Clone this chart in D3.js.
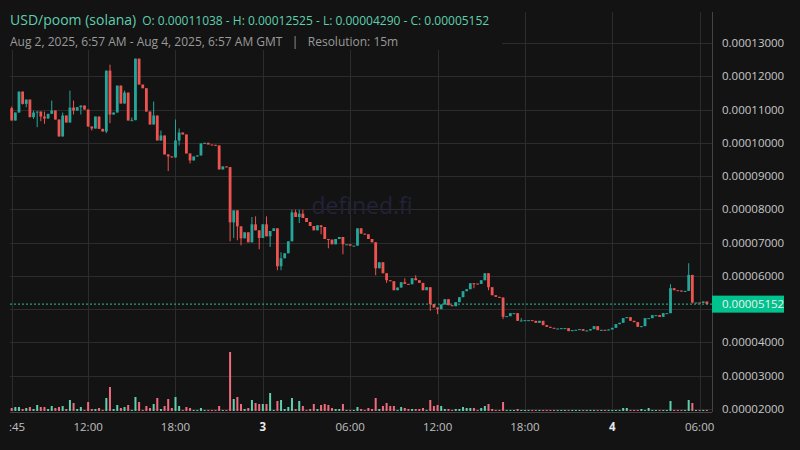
<!DOCTYPE html>
<html>
<head>
<meta charset="utf-8">
<script src="https://cdn.jsdelivr.net/npm/d3@7"></script>
<style>
  body { margin: 0; background: #131313; }
  svg { display: block; font-family: "Open Sans", "Noto Sans", sans-serif; }
</style>
</head>
<body>
<div id="chart"></div>
<script>
// prices in units of 1e-7 USD, one candle per 15m from Aug 2 06:45 GMT
const firstOpen = 1104;
const closes = [
  1067,1091,1154,1117,1130,1077,1091,1094,1079,1073,
  1087,1097,1070,1019,1082,1061,1106,1097,1107,1112,
  1100,1049,1043,1079,1042,1034,1217,1085,1091,1172,
  1118,1151,1067,1068,1253,1175,1164,1094,1055,1082,
  1007,1022,965,959,956,1007,1031,1025,968,947,
  959,962,998,1000,995,994,992,920,929,927,
  761,797,749,713,731,701,755,737,714,755,
  719,735,743,629,653,668,704,791,777,787,
  774,762,750,737,752,747,711,709,695,711,
  717,695,695,691,691,743,727,725,711,701,
  623,641,608,587,584,557,565,581,576,575,
  593,587,579,557,566,515,505,500,514,530,
  512,509,521,536,554,560,578,577,576,587,
  608,566,542,537,535,477,479,488,488,465,
  466,467,467,465,459,465,452,447,444,442,
  442,443,443,434,437,438,440,435,436,440,
  449,437,438,437,439,444,455,459,473,476,
  465,461,447,449,473,473,482,482,477,488,
  488,563,557,556,553,555,603,520,520,519,
  523,515.2
];
// [candle index, high, low] where the wicks stick out of the body
const wicks = [
  [0,1109,null],[3,null,1115],[4,null,1107],[6,1097,1072],[7,null,1047],[8,null,1065],
  [9,1094,1057],[11,1127,null],[14,1091,null],[16,1157,null],[17,1127,1085],[19,null,1085],
  [22,null,1037],[26,null,1029],[27,1235,1059],[31,1157,null],[33,1076,null],[39,1124,null],
  [41,1037,null],[43,null,915],[45,1070,null],[46,1043,992],[49,null,938],[60,null,704],
  [61,null,714],[62,null,707],[63,null,692],[66,777,null],[67,779,null],[68,null,680],
  [70,779,null],[71,null,687],[73,null,617],[74,671,617],[77,799,null],[78,799,null],
  [79,799,759],[80,799,null],[85,null,725],[87,null,683],[91,null,665],[100,null,602],
  [103,null,579],[108,593,null],[111,602,null],[115,null,495],[117,null,485],[127,null,563],
  [131,null,557],[135,null,470],[140,473,null],[181,575,null],[186,638,null],[187,null,517]
];
const volumes = [
  3,4,4,2,3,4,2,6,4,4, 2,5,3,4,5,2,11,8,2,4,
  1,9,2,2,3,1,13,24,2,6, 3,4,6,1,14,9,1,5,3,7,
  13,2,5,12,3,14,5,1,4,3, 1,1,3,1,1,1,1,5,1,1,
  59,12,14,7,2,3,11,8,7,7, 7,18,1,10,11,2,4,13,2,10,
  5,1,2,7,2,6,7,6,3,2, 2,7,1,1,1,4,2,1,3,2,
  13,2,5,8,5,5,1,4,3,2, 2,2,2,3,1,11,5,6,5,2,
  2,1,2,2,4,3,3,3,1,3, 5,7,2,1,1,9,1,1,1,2,
  1,1,1,1,1,1,1,1,1,1, 1,1,1,1,1,1,1,1,1,1,
  1,1,1,1,1,1,1,1,3,3, 1,1,1,2,1,3,1,1,1,1,
  1,10,1,1,1,1,11,8,1,1, 1,1
];
// 0.00005 is hidden behind the last-price tag in the original
const yTicks = [0.00002,0.00003,0.00004,0.00006,0.00007,0.00008,0.00009,0.0001,0.00011,0.00012,0.00013];
const yGrid = [0.00002,0.00003,0.00004,0.00005,0.00006,0.00007,0.00008,0.00009,0.0001,0.00011,0.00012,0.00013];
const xTickTimes = ["2025-08-02T06:45Z","2025-08-02T12:00Z","2025-08-02T18:00Z","2025-08-03T00:00Z",
  "2025-08-03T06:00Z","2025-08-03T12:00Z","2025-08-03T18:00Z","2025-08-04T00:00Z","2025-08-04T06:00Z"];
const xTickLabels = [":45","12:00","18:00","3","06:00","12:00","18:00","4","06:00"];

const width = 800, height = 450;
const plot = {left: 10, right: 712, top: 12, bottom: 412};
const green = "#26a69a", red = "#ef5350";

const t0 = new Date("2025-08-02T06:45Z");
const step = 15 * 60 * 1000;
const candles = closes.map((c, i) => {
  const o = i === 0 ? firstOpen : closes[i - 1];
  const w = wicks.find(d => d[0] === i);
  return {
    t: new Date(+t0 + i * step), o, c,
    h: Math.max(o, c, w && w[1] ? w[1] : 0),
    l: Math.min(o, c, w && w[2] ? w[2] : 1e9),
    v: volumes[i]
  };
});

const svg = d3.select("#chart").append("svg").attr("width", width).attr("height", height);
svg.append("rect").attr("width", width).attr("height", height).attr("fill", "#131313");

const x = d3.scaleUtc()
  .domain([t0, new Date(+t0 + 191 * step)])
  .range([11.7, 706.9]);
const y = d3.scaleLinear().domain([0.00002, 0.00013]).range([409, 43]);
const yv = d3.scaleLinear().domain([0, 59]).range([411, 352]);
const p = v => y(v * 1e-7);

svg.append("defs").append("clipPath").attr("id", "plotclip")
  .append("rect").attr("x", plot.left).attr("y", plot.top)
  .attr("width", plot.right - plot.left).attr("height", plot.bottom - plot.top);

// grid
const grid = svg.append("g").attr("stroke", "#2c2c2c").attr("stroke-width", 1);
grid.selectAll(".hg").data(yGrid).join("line")
  .attr("x1", plot.left).attr("x2", plot.right)
  .attr("y1", d => Math.round(y(d)) + 0.5).attr("y2", d => Math.round(y(d)) + 0.5);
grid.selectAll(".vg").data(xTickTimes.map(d => new Date(d))).join("line")
  .attr("y1", plot.top).attr("y2", plot.bottom)
  .attr("x1", d => Math.round(x(d)) + 0.5).attr("x2", d => Math.round(x(d)) + 0.5);

// watermark
svg.append("text").attr("x", 362).attr("y", 214).attr("text-anchor", "middle")
  .attr("font-size", 23).attr("fill", "#222238").text("defined.fi");

const chart = svg.append("g").attr("clip-path", "url(#plotclip)");

// volume
chart.selectAll(".vol").data(candles).join("rect")
  .attr("x", d => x(d.t) - 1).attr("width", 2)
  .attr("y", d => yv(d.v)).attr("height", d => yv(0) - yv(d.v))
  .attr("fill", d => d.c >= d.o ? "#5fcfae" : "#f06b7e");

// candles
const bw = 2.8;
const cg = chart.selectAll(".candle").data(candles).join("g");
cg.append("line")
  .attr("x1", d => x(d.t)).attr("x2", d => x(d.t))
  .attr("y1", d => p(d.h)).attr("y2", d => p(d.l))
  .attr("stroke", d => d.c >= d.o ? green : red).attr("stroke-width", 1);
cg.append("rect")
  .attr("x", d => x(d.t) - bw / 2).attr("width", bw)
  .attr("y", d => p(Math.max(d.o, d.c)))
  .attr("height", d => Math.max(1, Math.abs(p(d.o) - p(d.c))))
  .attr("fill", d => d.c >= d.o ? green : red);

// last price line
const last = closes[closes.length - 1];
svg.append("line").attr("x1", plot.left).attr("x2", plot.right)
  .attr("y1", p(last)).attr("y2", p(last))
  .attr("stroke", "#1fc29a").attr("stroke-dasharray", "2,2");

// frame
svg.append("line").attr("x1", plot.right + 0.5).attr("x2", plot.right + 0.5)
  .attr("y1", plot.top).attr("y2", plot.bottom).attr("stroke", "#444");
svg.append("line").attr("x1", plot.left).attr("x2", plot.right)
  .attr("y1", plot.bottom + 0.5).attr("y2", plot.bottom + 0.5).attr("stroke", "#444");

// y axis labels
svg.selectAll(".yl").data(yTicks).join("text")
  .attr("x", 722).attr("y", d => y(d) + 4)
  .attr("font-size", 11.5).attr("fill", "#c8c8c8")
  .text(d => d3.format(".8f")(d));
svg.append("rect").attr("x", 712).attr("y", p(last) - 8.5).attr("width", 72).attr("height", 17)
  .attr("fill", "#00c28c");
svg.append("text").attr("x", 722).attr("y", p(last) + 4)
  .attr("font-size", 11.5).attr("fill", "#f0f0f0").text(d3.format(".8f")(last * 1e-7));

// x axis labels
svg.append("g")
  .selectAll("text").data(xTickTimes).join("text")
  .attr("x", (d, i) => i === 0 ? 9 : x(new Date(d))).attr("y", 431)
  .attr("text-anchor", (d, i) => i === 0 ? "start" : "middle")
  .attr("font-size", 11.5)
  .attr("font-weight", (d, i) => xTickLabels[i].length === 1 ? "bold" : "normal")
  .attr("fill", (d, i) => xTickLabels[i].length === 1 ? "#e8e8e8" : "#c0c0c0")
  .text((d, i) => xTickLabels[i]);

// header
svg.append("rect").attr("x", 0).attr("y", 0).attr("width", 502).attr("height", 50).attr("fill", "#131313");
const title = svg.append("text").attr("x", 10).attr("y", 25).attr("fill", "#5fcfae");
title.append("tspan").attr("font-size", 14).text("USD/poom (solana)");
title.append("tspan").attr("dx", 6).attr("font-size", 12)
  .text("O: 0.00011038 - H: 0.00012525 - L: 0.00004290 - C: 0.00005152");
svg.append("text").attr("x", 10).attr("y", 46).attr("font-size", 12).attr("fill", "#9a9a9a")
  .attr("xml:space", "preserve")
  .text("Aug 2, 2025, 6:57 AM - Aug 4, 2025, 6:57 AM GMT   |   Resolution: 15m");
</script>
</body>
</html>
